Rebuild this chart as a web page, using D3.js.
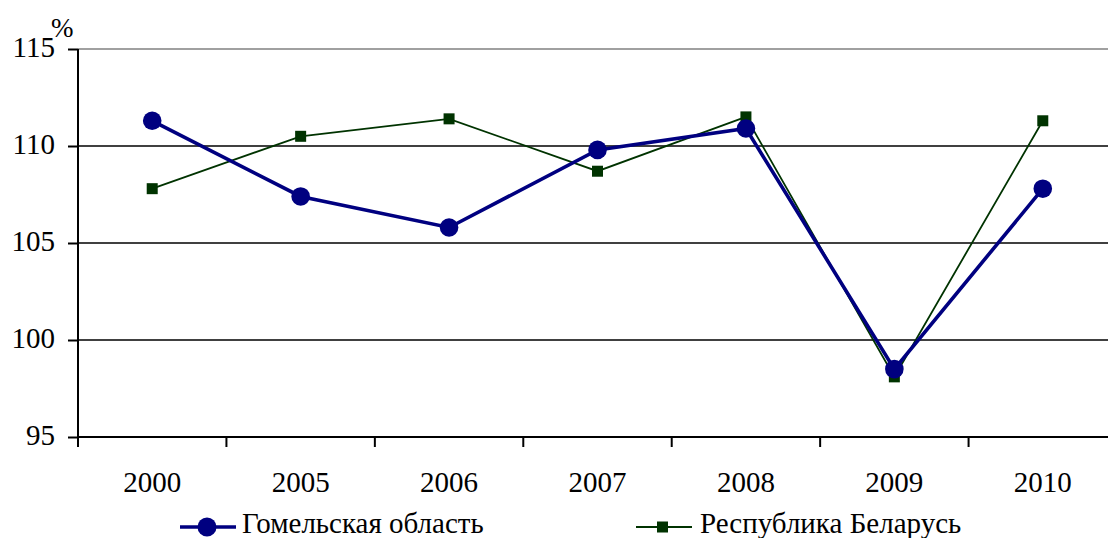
<!DOCTYPE html>
<html>
<head>
<meta charset="utf-8">
<script src="https://cdn.jsdelivr.net/npm/d3@7.9.0/dist/d3.min.js"></script>
<style>
  html, body { margin: 0; padding: 0; background: #fff; }
  svg { display: block; }
  svg text { font-family: "Liberation Serif", "Times New Roman", serif; fill: #000; }
</style>
</head>
<body>
<svg id="chart" width="1108" height="538"></svg>
<script>
// --- data ---
const years   = ['2000', '2005', '2006', '2007', '2008', '2009', '2010'];
const gomel   = [111.3, 107.4, 105.8, 109.8, 110.9, 98.5, 107.8];
const belarus = [107.8, 110.5, 111.4, 108.7, 111.5, 98.1, 111.3];
const yTicks  = [95, 100, 105, 110, 115];
const seriesNames = ['Гомельская область', 'Республика Беларусь'];

// --- layout ---
const svg = d3.select('#chart');
const plotL = 78, plotR = 1117, plotT = 49, plotB = 437;

const x = d3.scaleBand().domain(years).range([plotL, plotR]);
const y = d3.scaleLinear().domain([95, 115]).range([plotB, plotT]);
const cx = i => x(years[i]) + x.bandwidth() / 2;

// grid lines
svg.append('g')
  .selectAll('line')
  .data(yTicks.filter(d => d !== 95))
  .join('line')
    .attr('x1', plotL).attr('x2', 1108)
    .attr('y1', d => y(d)).attr('y2', d => y(d))
    .attr('stroke', d => d === 115 ? '#808080' : '#000')
    .attr('stroke-width', 1.6);

// y axis
const yAxis = svg.append('g')
  .attr('transform', `translate(${plotL},0)`)
  .call(d3.axisLeft(y).tickValues(yTicks).tickSize(10).tickPadding(13));
yAxis.attr('font-family', null);
yAxis.select('.domain').attr('stroke', '#000').attr('stroke-width', 2)
  .attr('d', `M0,${plotT}V${plotB}`);
yAxis.selectAll('.tick line').attr('stroke', '#000').attr('stroke-width', 2);
yAxis.selectAll('.tick text')
  .style('font-size', '29px')
  .attr('dy', '0.26em');

svg.append('text')
  .attr('x', 51).attr('y', 37)
  .style('font-size', '27px')
  .text('%');

// x axis (labels centred, ticks between categories)
const xAxis = svg.append('g')
  .attr('transform', `translate(0,${plotB})`)
  .call(d3.axisBottom(x).tickSize(0).tickPadding(0));
xAxis.attr('font-family', null);
xAxis.select('.domain').remove();
xAxis.selectAll('.tick text')
  .style('font-size', '29px')
  .attr('y', 55).attr('dy', 0);

svg.append('line')
  .attr('x1', plotL).attr('x2', 1108)
  .attr('y1', plotB).attr('y2', plotB)
  .attr('stroke', '#000').attr('stroke-width', 2.2);

svg.append('g')
  .selectAll('line')
  .data(years)
  .join('line')
    .attr('x1', d => x(d)).attr('x2', d => x(d))
    .attr('y1', plotB).attr('y2', plotB + 10)
    .attr('stroke', '#000').attr('stroke-width', 2);

// --- series ---
const line = d3.line().x((d, i) => cx(i)).y(d => y(d));

svg.append('path')
  .datum(belarus)
  .attr('d', line)
  .attr('fill', 'none')
  .attr('stroke', '#003300')
  .attr('stroke-width', 1.8);

svg.append('path')
  .datum(gomel)
  .attr('d', line)
  .attr('fill', 'none')
  .attr('stroke', '#000080')
  .attr('stroke-width', 3.6);

svg.append('g')
  .selectAll('rect')
  .data(belarus)
  .join('rect')
    .attr('x', (d, i) => cx(i) - 5.5)
    .attr('y', d => y(d) - 5.5)
    .attr('width', 11).attr('height', 11)
    .attr('fill', '#003300');

svg.append('g')
  .selectAll('circle')
  .data(gomel)
  .join('circle')
    .attr('cx', (d, i) => cx(i))
    .attr('cy', d => y(d))
    .attr('r', 9.3)
    .attr('fill', '#000080');

// --- legend ---
const ly = 527;
const lg = svg.append('g');
lg.append('line').attr('x1', 180).attr('x2', 236).attr('y1', ly).attr('y2', ly)
  .attr('stroke', '#000080').attr('stroke-width', 3.6);
lg.append('circle').attr('cx', 207).attr('cy', ly).attr('r', 9.5).attr('fill', '#000080');
lg.append('text').attr('x', 242).attr('y', 533).style('font-size', '29px').text(seriesNames[0]);

lg.append('line').attr('x1', 636).attr('x2', 692).attr('y1', ly).attr('y2', ly)
  .attr('stroke', '#003300').attr('stroke-width', 1.8);
lg.append('rect').attr('x', 657).attr('y', ly - 5.5).attr('width', 11).attr('height', 11)
  .attr('fill', '#003300');
lg.append('text').attr('x', 700).attr('y', 533).style('font-size', '29px').text(seriesNames[1]);
</script>
</body>
</html>
